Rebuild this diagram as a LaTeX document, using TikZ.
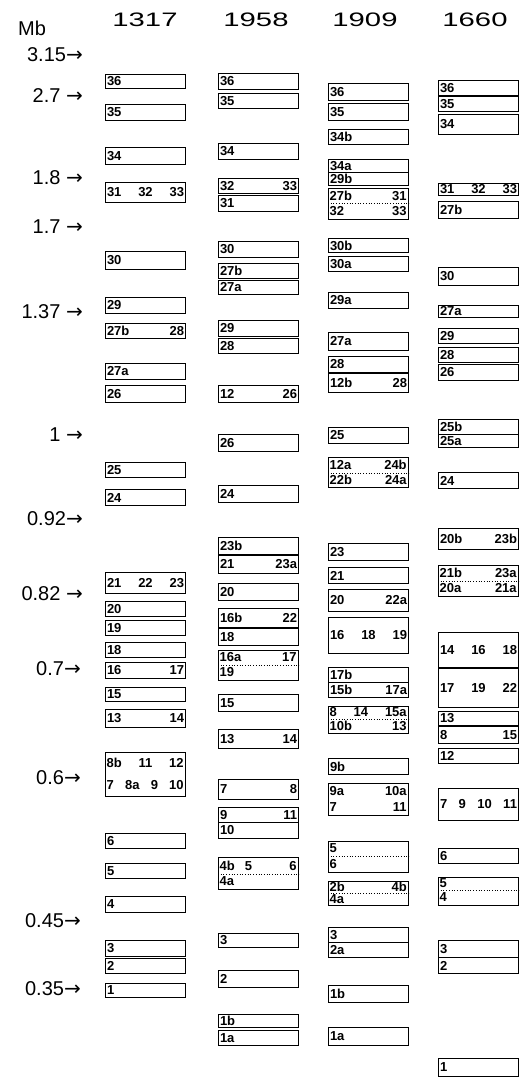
\documentclass[tikz,border=0pt]{standalone}
\usepackage{fontspec}
\setmainfont{Liberation Sans}
\newfontfamily\headfont[FakeStretch=1.5]{Liberation Sans}
\newfontfamily\arrowfont{DejaVu Sans}
\usepackage{tikz}
\usetikzlibrary{calc}

\newcommand{\bandfont}{\fontsize{13}{14}\selectfont\bfseries}
\newcommand{\mbto}{{\arrowfont\fontsize{20}{20}\selectfont →}}

% one band: name, left x, top y, bottom y, label
\newcommand{\chrband}[5]{%
  \node[band,minimum height={(#4-#3)*1pt}] (#1) at (#2,#3) {#5};}
% band with two rows: [divider], name, left x, top y, middle y, bottom y, upper, lower
\newcommand{\chrbandii}[8][divider]{%
  \node[band,minimum height={(#6-#4)*1pt}] (#2) at (#3,#4) {};
  \node[bandrow] (#2u) at (#3,{(#4+#5)/2}) {#7};
  \node[bandrow] (#2l) at (#3,{(#5+#6)/2}) {#8};
  \coordinate (#2m) at (#3,#5);
  \draw[#1] (#2m) -- (#2.east |- #2m);}

\begin{document}
\begin{tikzpicture}[x=1pt,y=-1pt,
    band/.style={draw,line width=1pt,anchor=north west,inner xsep=1.5pt,inner ysep=0pt,
      text width=77pt,align=left,font=\bandfont},
    bandrow/.style={anchor=west,inner xsep=1.5pt,inner ysep=0pt,text width=77pt,
      align=left,font=\bandfont},
    divider/.style={dotted,line width=0.7pt},
    strain/.style={font=\headfont\fontsize{19.5}{22}\selectfont,inner sep=0pt},
    mblabel/.style={font=\fontsize{20}{24}\selectfont,anchor=east,inner sep=0pt}]
    \useasboundingbox (0,0) rectangle (528,1077);
    \def\xa{105}
    \def\xb{218}
    \def\xc{328}
    \def\xd{438}

    % Size scale
    \node[font=\fontsize{20}{24}\selectfont,inner sep=0pt] (mb) at (32,28) {Mb};
    \node[mblabel] (m315) at (83,55) {3.15\mbto};
    \node[mblabel] (m27) at (83,96) {2.7 \mbto};
    \node[mblabel] (m18) at (83,178) {1.8 \mbto};
    \node[mblabel] (m17) at (83,227) {1.7 \mbto};
    \node[mblabel] (m137) at (83,312) {1.37 \mbto};
    \node[mblabel] (m1) at (83,435) {1 \mbto};
    \node[mblabel] (m092) at (83,519) {0.92\mbto};
    \node[mblabel] (m082) at (83,594) {0.82 \mbto};
    \node[mblabel] (m07) at (81,669) {0.7\mbto};
    \node[mblabel] (m06) at (81,778) {0.6\mbto};
    \node[mblabel] (m045) at (81,921) {0.45\mbto};
    \node[mblabel] (m035) at (81,989) {0.35\mbto};

    % Strains
    \node[strain] (s1317) at (145,20) {1317};
    \node[strain] (s1958) at (256,20) {1958};
    \node[strain] (s1909) at (365,20) {1909};
    \node[strain] (s1660) at (475,20) {1660};

    % 1317
    \chrband{a36}{\xa}{74}{88}{36}
    \chrband{a35}{\xa}{104}{120}{35}
    \chrband{a34}{\xa}{147}{164}{34}
    \chrband{a31}{\xa}{182}{202}{31\hfill 32\hfill 33}
    \chrband{a30}{\xa}{251}{269}{30}
    \chrband{a29}{\xa}{297}{313}{29}
    \chrband{a27b}{\xa}{323}{338}{27b\hfill 28}
    \chrband{a27a}{\xa}{363}{379}{27a}
    \chrband{a26}{\xa}{385}{402}{26}
    \chrband{a25}{\xa}{462}{477}{25}
    \chrband{a24}{\xa}{489}{505}{24}
    \chrband{a21}{\xa}{572}{593}{21\hfill 22\hfill 23}
    \chrband{a20}{\xa}{601}{616}{20}
    \chrband{a19}{\xa}{620}{635}{19}
    \chrband{a18}{\xa}{642}{657}{18}
    \chrband{a16}{\xa}{662}{678}{16\hfill 17}
    \chrband{a15}{\xa}{687}{701}{15}
    \chrband{a13}{\xa}{709}{727}{13\hfill 14}
    \chrbandii[draw=none]{a8b}{\xa}{752}{774}{796}{8b\hfill 11\hfill 12}{7\hfill 8a\hfill 9\hfill 10}
    \chrband{a6}{\xa}{833}{848}{6}
    \chrband{a5}{\xa}{863}{878}{5}
    \chrband{a4}{\xa}{896}{912}{4}
    \chrband{a3}{\xa}{940}{956}{3}
    \chrband{a2}{\xa}{958}{973}{2}
    \chrband{a1}{\xa}{983}{997}{1}

    % 1958
    \chrband{b36}{\xb}{73}{89}{36}
    \chrband{b35}{\xb}{93}{108}{35}
    \chrband{b34}{\xb}{143}{159}{34}
    \chrband{b32}{\xb}{178}{193}{32\hfill 33}
    \chrband{b31}{\xb}{195}{211}{31}
    \chrband{b30}{\xb}{241}{257}{30}
    \chrband{b27b}{\xb}{263}{278}{27b}
    \chrband{b27a}{\xb}{280}{294}{27a}
    \chrband{b29}{\xb}{320}{336}{29}
    \chrband{b28}{\xb}{338}{353}{28}
    \chrband{b12}{\xb}{385}{402}{12\hfill 26}
    \chrband{b26}{\xb}{434}{451}{26}
    \chrband{b24}{\xb}{485}{502}{24}
    \chrband{b23b}{\xb}{537}{554}{23b}
    \chrband{b21}{\xb}{555}{573}{21\hfill 23a}
    \chrband{b20}{\xb}{583}{600}{20}
    \chrband{b16b}{\xb}{608}{627}{16b\hfill 22}
    \chrband{b18}{\xb}{628}{645}{18}
    \chrbandii{b16a}{\xb}{650}{665}{680}{16a\hfill 17}{19}
    \chrband{b15}{\xb}{694}{711}{15}
    \chrband{b13}{\xb}{729}{748}{13\hfill 14}
    \chrband{b7}{\xb}{779}{799}{7\hfill 8}
    \chrband{b9}{\xb}{807}{822}{9\hfill 11}
    \chrband{b10}{\xb}{822}{838}{10}
    \chrbandii{b4b}{\xb}{857}{874}{889}{4b\hspace{10pt}5\hfill 6}{4a}
    \chrband{b3}{\xb}{933}{947}{3}
    \chrband{b2}{\xb}{970}{987}{2}
    \chrband{b1b}{\xb}{1014}{1027}{1b}
    \chrband{b1a}{\xb}{1030}{1045}{1a}

    % 1909
    \chrband{c36}{\xc}{83}{100}{36}
    \chrband{c35}{\xc}{103}{120}{35}
    \chrband{c34b}{\xc}{129}{144}{34b}
    \chrband{c34a}{\xc}{159}{172}{34a}
    \chrband{c29b}{\xc}{172}{185}{29b}
    \chrbandii{c27b}{\xc}{188}{203}{219}{27b\hfill 31}{32\hfill 33}
    \chrband{c30b}{\xc}{238}{252}{30b}
    \chrband{c30a}{\xc}{256}{271}{30a}
    \chrband{c29a}{\xc}{292}{308}{29a}
    \chrband{c27a}{\xc}{332}{350}{27a}
    \chrband{c28}{\xc}{356}{372}{28}
    \chrband{c12b}{\xc}{373}{392}{12b\hfill 28}
    \chrband{c25}{\xc}{427}{443}{25}
    \chrbandii{c12a}{\xc}{457}{473}{487}{12a\hfill 24b}{22b\hfill 24a}
    \chrband{c23}{\xc}{543}{560}{23}
    \chrband{c21}{\xc}{567}{583}{21}
    \chrband{c20}{\xc}{589}{611}{20\hfill 22a}
    \chrband{c16}{\xc}{617}{653}{16\hfill 18\hfill 19}
    \chrband{c17b}{\xc}{667}{682}{17b}
    \chrband{c15b}{\xc}{682}{697}{15b\hfill 17a}
    \chrbandii{c8}{\xc}{706}{719}{733}{8\hfill 14\hfill 15a}{10b\hfill 13}
    \chrband{c9b}{\xc}{758}{774}{9b}
    \chrbandii[draw=none]{c9a}{\xc}{783}{799}{815}{9a\hfill 10a}{7\hfill 11}
    \chrbandii{c5}{\xc}{841}{856}{872}{5}{6}
    \chrbandii{c2b}{\xc}{881}{893}{905}{2b\hfill 4b}{4a}
    \chrband{c3}{\xc}{927}{942}{3}
    \chrband{c2a}{\xc}{942}{957}{2a}
    \chrband{c1b}{\xc}{985}{1002}{1b}
    \chrband{c1a}{\xc}{1027}{1045}{1a}

    % 1660
    \chrband{d36}{\xd}{80}{95}{36}
    \chrband{d35}{\xd}{96}{111}{35}
    \chrband{d34}{\xd}{114}{134}{34}
    \chrband{d31}{\xd}{183}{195}{31\hfill 32\hfill 33}
    \chrband{d27b}{\xd}{201}{218}{27b}
    \chrband{d30}{\xd}{267}{285}{30}
    \chrband{d27a}{\xd}{305}{317}{27a}
    \chrband{d29}{\xd}{328}{343}{29}
    \chrband{d28}{\xd}{347}{362}{28}
    \chrband{d26}{\xd}{364}{380}{26}
    \chrband{d25b}{\xd}{419}{434}{25b}
    \chrband{d25a}{\xd}{434}{447}{25a}
    \chrband{d24}{\xd}{472}{488}{24}
    \chrband{d20b}{\xd}{528}{549}{20b\hfill 23b}
    \chrbandii{d21b}{\xd}{565}{581}{596}{21b\hfill 23a}{20a\hfill 21a}
    \chrband{d14}{\xd}{632}{667}{14\hfill 16\hfill 18}
    \chrband{d17}{\xd}{668}{707}{17\hfill 19\hfill 22}
    \chrband{d13}{\xd}{711}{725}{13}
    \chrband{d8}{\xd}{726}{743}{8\hfill 15}
    \chrband{d12}{\xd}{748}{763}{12}
    \chrband{d7}{\xd}{788}{820}{7\hfill 9\hfill 10\hfill 11}
    \chrband{d6}{\xd}{848}{863}{6}
    \chrbandii{d5}{\xd}{877}{890}{905}{5}{4}
    \chrband{d3}{\xd}{940}{957}{3}
    \chrband{d2}{\xd}{957}{973}{2}
    \chrband{d1}{\xd}{1058}{1076}{1}
\end{tikzpicture}
\end{document}
